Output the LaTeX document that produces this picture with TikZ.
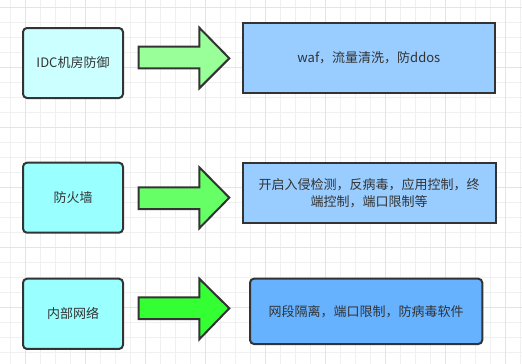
\documentclass[tikz,border=0pt]{standalone}
\usepackage{fontspec}
\setmainfont{Noto Sans CJK SC}
\begin{document}
\begin{tikzpicture}[x=0.75pt,y=-0.75pt,
  every node/.style={font=\fontsize{9.75pt}{13pt}\selectfont, text=txt, align=center, inner sep=0pt},
  leftbox/.style={draw=strk, line width=1.5pt, rounded corners=3pt, minimum width=75pt, minimum height=52.5pt},
  rightbox/.style={draw=strk, line width=1.5pt},
  blockarrow/.style={draw=strk, line width=1.5pt, line join=miter}]
\definecolor{strk}{HTML}{333333}
\definecolor{txt}{HTML}{333333}
\definecolor{gridminor}{HTML}{F0F0F0}
\definecolor{gridmajor}{HTML}{E4E4E4}
\definecolor{cA}{HTML}{CCFFFF}
\definecolor{cB}{HTML}{99FFFF}
\definecolor{aA}{HTML}{99FF99}
\definecolor{aB}{HTML}{66FF66}
\definecolor{aC}{HTML}{33FF33}
\definecolor{rA}{HTML}{99CCFF}
\definecolor{rC}{HTML}{66B2FF}
\useasboundingbox[fill=white] (0,0) rectangle (522,364);
% grid
\foreach \i in {0,...,34} {
  \draw[gridminor, line width=0.75pt] ({10.3+15*\i},0) -- ({10.3+15*\i},364);
}
\foreach \j in {0,...,24} {
  \draw[gridminor, line width=0.75pt] (0,{7.3+15*\j}) -- (522,{7.3+15*\j});
}
\foreach \i in {0,...,8} {
  \draw[gridmajor, line width=0.75pt] ({25.3+60*\i},0) -- ({25.3+60*\i},364);
}
\foreach \j in {0,...,6} {
  \draw[gridmajor, line width=0.75pt] (0,{7.3+60*\j}) -- (522,{7.3+60*\j});
}
% row 1
\node[leftbox, fill=cA] (idc) at (73,63) {IDC机房防御};
\draw[blockarrow, fill=aA] (138.5,46.7) -- (199.3,46.7) -- (199.3,27.7) -- (229.3,58.3) -- (199.3,88.3) -- (199.3,68.3) -- (138.5,68.3) -- cycle;
\node[rightbox, fill=rA, minimum width=189.2pt, minimum height=52.9pt] (waf) at (368.85,58) {waf，流量清洗，防ddos};
% row 2
\node[leftbox, fill=cB] (fw) at (73,197.7) {防火墙};
\draw[blockarrow, fill=aB] (138.5,187.3) -- (199.3,187.3) -- (199.3,167.3) -- (229.3,197.7) -- (199.3,228.3) -- (199.3,209) -- (138.5,209) -- cycle;
\node[rightbox, fill=rA, minimum width=189.6pt, minimum height=45.5pt] (fwt) at (369.1,193) {开启入侵检测，反病毒，应用控制，终\\端控制，端口限制等};
% row 3
\node[leftbox, fill=cB, minimum height=52.7pt] (lan) at (73,313.85) {内部网络};
\draw[blockarrow, fill=aC] (138.5,297.3) -- (199.3,297.3) -- (199.3,278.7) -- (229.3,308.3) -- (199.3,339.3) -- (199.3,319) -- (138.5,319) -- cycle;
\node[leftbox, fill=rC, minimum width=174.2pt, minimum height=49pt] (lant) at (366.15,311.35) {网段隔离，端口限制，防病毒软件};
\end{tikzpicture}
\end{document}
